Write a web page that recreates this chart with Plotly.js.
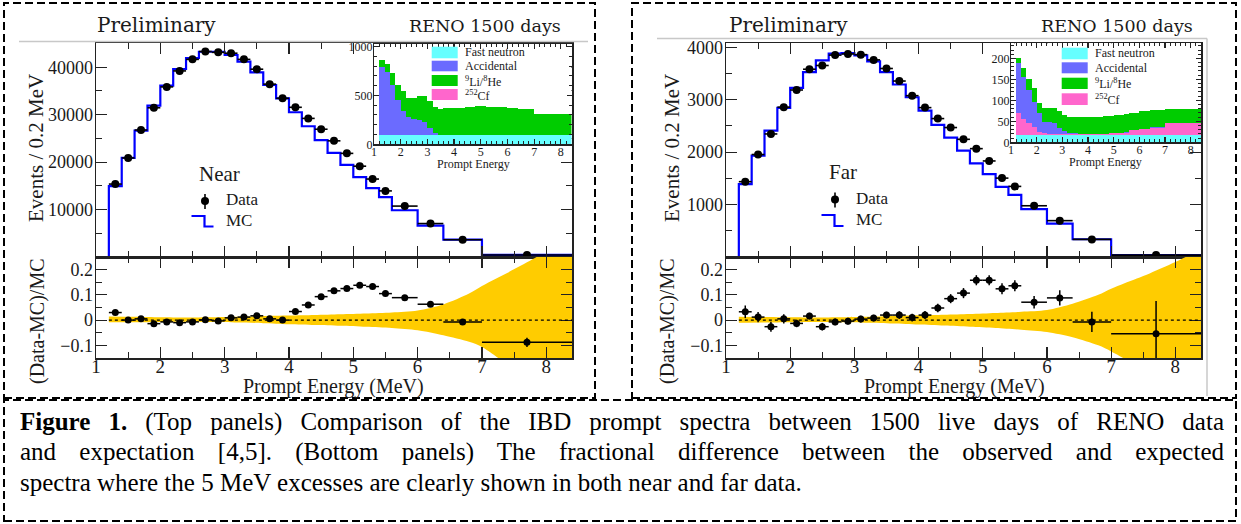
<!DOCTYPE html>
<html><head><meta charset="utf-8">
<script src="https://cdn.plot.ly/plotly-3.0.1.min.js"></script>
<style>
html,body{margin:0;padding:0;background:#fff;}
#chart{width:1241px;height:524px;position:absolute;left:0;top:0;}
.cap{position:absolute;left:20px;width:1204px;font-family:"Liberation Serif","Times New Roman",serif;font-size:25px;line-height:30px;color:#000;white-space:nowrap;}
.just{text-align:justify;text-align-last:justify;}
</style></head><body>
<div id="chart"></div>
<div class="cap just" style="top:407px"><b>Figure 1.</b> (Top panels) Comparison of the IBD prompt spectra between 1500 live days of RENO data</div>
<div class="cap just" style="top:437px">and expectation [4,5]. (Bottom panels) The fractional difference between the observed and expected</div>
<div class="cap" style="top:468px">spectra where the 5 MeV excesses are clearly shown in both near and far data.</div>
<script>
// ---------------- data ----------------
const histLow = 1.0;
const binEdges = [1.2,1.4,1.6,1.8,2.0,2.2,2.4,2.6,2.8,3.0,3.2,3.4,3.6,3.8,4.0,4.2,4.4,4.6,4.8,5.0,5.2,5.4,5.6,6.0,6.4,7.0,8.4];

const nearData = [15370,20880,26760,31450,35850,39220,41650,43300,43130,42950,41650,39580,36430,33450,31550,29210,26930,24480,21840,19140,16430,13930,10730,7050,3650,420];
const nearMC   = [14920,20880,26630,31900,36100,39620,41940,43260,43260,42570,41160,38920,36250,33450,30510,27560,24640,21940,19410,16820,14500,12610,9850,6630,3680,460];
const farData  = [1436,1954,2346,2857,3184,3580,3651,3849,3871,3858,3758,3594,3355,3076,2848,2639,2468,2244,2066,1831,1504,1346,977,693,336,36];
const farMC    = [1390,1931,2409,2843,3226,3524,3748,3876,3887,3843,3728,3524,3289,3046,2792,2518,2275,2027,1784,1581,1338,1185,912,637,338,38];

const nearRatio    = [0.030,0.000,0.005,-0.014,-0.007,-0.010,-0.007,0.001,-0.003,0.009,0.012,0.017,0.005,0.000,0.034,0.060,0.093,0.116,0.125,0.138,0.133,0.105,0.089,0.063,-0.007,-0.088];
const nearRatioErr = [0.005,0.004,0.004,0.004,0.004,0.004,0.004,0.004,0.004,0.004,0.004,0.004,0.004,0.004,0.004,0.004,0.005,0.005,0.005,0.005,0.006,0.006,0.006,0.008,0.008,0.018];
const farRatio     = [0.033,0.012,-0.026,0.005,-0.013,0.016,-0.026,-0.007,-0.004,0.004,0.008,0.020,0.020,0.010,0.020,0.048,0.085,0.107,0.158,0.158,0.124,0.136,0.071,0.088,-0.007,-0.054];
const farRatioErr  = [0.025,0.020,0.020,0.018,0.015,0.013,0.015,0.013,0.013,0.013,0.013,0.013,0.015,0.015,0.016,0.017,0.018,0.020,0.020,0.020,0.022,0.022,0.025,0.030,0.040,0.130];

const bandE      = [1.2,1.6,2.0,2.4,2.8,3.2,3.6,4.0,4.4,4.8,5.2,5.6,6.0,6.4,6.8,7.0,7.2,7.4,7.6,7.8,8.0,8.2,8.4];
const nearBandUp = [0.014,0.013,0.011,0.010,0.011,0.013,0.016,0.018,0.020,0.023,0.026,0.030,0.038,0.062,0.105,0.135,0.162,0.188,0.215,0.243,0.272,0.300,0.330];
const nearBandLo = [-0.008,-0.008,-0.007,-0.006,-0.007,-0.009,-0.012,-0.016,-0.019,-0.022,-0.026,-0.031,-0.040,-0.060,-0.086,-0.106,-0.140,-0.18,-0.22,-0.26,-0.30,-0.34,-0.38];
const farBandUp  = [0.013,0.012,0.011,0.010,0.011,0.013,0.016,0.019,0.021,0.024,0.028,0.033,0.040,0.065,0.100,0.124,0.145,0.165,0.185,0.207,0.230,0.255,0.280];
const farBandLo  = [-0.010,-0.009,-0.008,-0.007,-0.008,-0.010,-0.013,-0.017,-0.021,-0.026,-0.031,-0.038,-0.047,-0.068,-0.100,-0.124,-0.152,-0.19,-0.23,-0.27,-0.31,-0.35,-0.39];

// tick labels of the spectra panels
const nearTicks = [10000,20000,30000,40000];
const farTicks  = [1000,2000,3000,4000];

// backgrounds (events / 0.2 MeV)
const bkgNames  = ['Fast neutron','Accidental','<sup>9</sup>Li/<sup>8</sup>He','<sup>252</sup>Cf'];
const nearFN  = [92,92,92,92,92,92,92,92,92,92,92,92,92,92,92,92,92,92,92,92,92,92,92,92,92,92];
const nearCf  = [4,3,3,3,2,2,2,2,2,2,2,2,2,2,2,2,2,2,2,2,2,3,3,4,5,6];
const nearAcc = [692,645,515,360,242,183,163,156,129,70,19,4,2,1,1,1,1,1,1,1,1,1,1,1,1,1];
const nearLi  = [72,82,120,155,205,196,216,247,274,274,267,267,274,274,281,281,288,288,294,294,288,288,281,274,267,209];
const farFN   = [18,18,18,18,18,18,18,18,18,18,18,18,18,18,18,18,18,18,18,18,18,18,18,18,18,18];
const farCf   = [53,37,27,19,7,3,2,2,2,2,2,2,2,2,2,2,2,2,3,3,4,5,11,14,17,27];
const farAcc  = [119,101,80,60,44,28,29,25,15,7,2,1,0.5,0.5,0.5,0.5,0.5,0.5,0.5,0.5,0.5,0.5,0.5,0.5,0.5,0.5];
const farLi   = [12,22,25,33,25,33,32,36,40,38,38,39,39.5,39.5,40.5,40.5,40.5,41.5,40.5,42.5,41.5,43.5,41.5,41.5,41.5,33.5];

// ---------------- helpers ----------------
const W = 1241, H = 524;
const X = p => p / W, Y = p => 1 - p / H;
const centers = binEdges.slice(0, -1).map((e, i) => (e + binEdges[i + 1]) / 2);
const halfW   = binEdges.slice(0, -1).map((e, i) => (binEdges[i + 1] - e) / 2);
const widths  = halfW.map(h => 2 * h);
const stepX = [histLow].concat(binEdges);
const stepY = v => [0].concat(v, [v[v.length - 1]]);

const SERIF = 'Liberation Serif, Times New Roman, serif';
const TXT = '#1a1a1a';
const LC = '#222';

function ax(o) {
  return Object.assign({
    showline: true, linecolor: LC, linewidth: 1.5, mirror: 'ticks',
    ticks: 'inside', ticklen: 11, tickwidth: 1.2, tickcolor: LC,
    showgrid: false, zeroline: false, fixedrange: true,
    tickfont: {family: SERIF, size: 18, color: TXT}
  }, o);
}
const minor = (d, len) => ({ticks: 'inside', ticklen: len || 6, dtick: d, tickcolor: LC, tickwidth: 1});

// ---------------- traces ----------------
const traces = [];
function mainTraces(xa, ya, mc, data) {
  traces.push({type: 'scatter', mode: 'lines', x: stepX, y: stepY(mc), xaxis: xa, yaxis: ya,
    line: {color: '#0000ff', width: 2.2, shape: 'hv'}, hoverinfo: 'skip'});
  traces.push({type: 'scatter', mode: 'markers', x: centers, y: data, xaxis: xa, yaxis: ya,
    marker: {color: '#000', size: 8},
    error_x: {type: 'data', array: halfW, color: '#000', thickness: 1.6, width: 0}});
}
function ratioTraces(xa, ya, lo, up, r, re) {
  traces.push({type: 'scatter', mode: 'lines', x: bandE, y: lo, xaxis: xa, yaxis: ya,
    line: {width: 0, color: '#ffcc00', shape: 'spline', smoothing: 0.8}, hoverinfo: 'skip'});
  traces.push({type: 'scatter', mode: 'lines', x: bandE, y: up, xaxis: xa, yaxis: ya,
    line: {width: 0, color: '#ffcc00', shape: 'spline', smoothing: 0.8}, fill: 'tonexty', fillcolor: '#ffcc00', hoverinfo: 'skip'});
  traces.push({type: 'scatter', mode: 'markers', x: centers, y: r, xaxis: xa, yaxis: ya,
    marker: {color: '#000', size: 7},
    error_x: {type: 'data', array: halfW, color: '#000', thickness: 1.5, width: 0},
    error_y: {type: 'data', array: re, color: '#000', thickness: 1.5, width: 0}});
}
const bkgColors = ['#66ffff', '#6b6bff', '#00cc00', '#ff66cc'];
function insetTraces(xa, ya, fn, cf, acc, li) {
  const order = [[fn, 0], [cf, 3], [acc, 1], [li, 2]];
  order.forEach(([v, k]) => traces.push({type: 'bar', x: centers, y: v, width: widths,
    xaxis: xa, yaxis: ya, marker: {color: bkgColors[k], line: {width: 0}}, name: bkgNames[k], hoverinfo: 'skip'}));
}
mainTraces('x', 'y', nearMC, nearData);
ratioTraces('x2', 'y2', nearBandLo, nearBandUp, nearRatio, nearRatioErr);
insetTraces('x3', 'y3', nearFN, nearCf, nearAcc, nearLi);
mainTraces('x4', 'y4', farMC, farData);
ratioTraces('x5', 'y5', farBandLo, farBandUp, farRatio, farRatioErr);
insetTraces('x6', 'y6', farFN, farCf, farAcc, farLi);

// ---------------- layout ----------------
const L = [96, 572], R = [726, 1201];
const topY = [Y(257), Y(43)], botY = [Y(358), Y(257)];
const xr = [1, 8.4];
const bigX = {family: SERIF, size: 19, color: TXT};
const smallF = {family: SERIF, size: 12, color: TXT};
const layout = {
  width: W, height: H, margin: {l: 0, r: 0, t: 0, b: 0},
  paper_bgcolor: '#fff', plot_bgcolor: '#fff', showlegend: false,
  barmode: 'stack', bargap: 0,
  font: {family: SERIF, color: TXT},
  xaxis:  ax({domain: [X(L[0]), X(L[1])], range: xr, anchor: 'y', showticklabels: false, dtick: 1, minor: minor(0.5)}),
  yaxis:  ax({domain: topY, range: [0, 45100], anchor: 'x', tickmode: 'array', tickvals: nearTicks, tickformat: 'd', minor: minor(5000), ticklabelstandoff: -2}),
  xaxis2: ax({domain: [X(L[0]), X(L[1])], range: xr, anchor: 'y2', dtick: 1, minor: minor(0.5), tickfont: bigX, ticklabelstandoff: -9}),
  yaxis2: ax({domain: botY, range: [-0.15, 0.25], anchor: 'x2', dtick: 0.1, tick0: 0, minor: minor(0.05), ticklabelstandoff: -2}),
  xaxis3: ax({domain: [X(374), X(571.5)], range: xr, anchor: 'y3', dtick: 1, ticklen: 5, minor: minor(0.2, 3), tickfont: smallF, linewidth: 1.2, ticklabelstandoff: -4}),
  yaxis3: ax({domain: [Y(144.3), Y(44)], range: [0, 1025], anchor: 'x3', dtick: 500, ticklen: 5, minor: minor(100, 3), tickfont: smallF, linewidth: 1.2, ticklabelstandoff: -2}),
  xaxis4: ax({domain: [X(R[0]), X(R[1])], range: xr, anchor: 'y4', showticklabels: false, dtick: 1, minor: minor(0.5)}),
  yaxis4: ax({domain: topY, range: [0, 4080], anchor: 'x4', tickmode: 'array', tickvals: farTicks, tickformat: 'd', minor: minor(500), ticklabelstandoff: -2}),
  xaxis5: ax({domain: [X(R[0]), X(R[1])], range: xr, anchor: 'y5', dtick: 1, minor: minor(0.5), tickfont: bigX, ticklabelstandoff: -9}),
  yaxis5: ax({domain: botY, range: [-0.15, 0.25], anchor: 'x5', dtick: 0.1, tick0: 0, minor: minor(0.05), ticklabelstandoff: -2}),
  xaxis6: ax({domain: [X(1011), X(1201)], range: xr, anchor: 'y6', dtick: 1, ticklen: 5, minor: minor(0.2, 3), tickfont: smallF, linewidth: 1.2, ticklabelstandoff: -4}),
  yaxis6: ax({domain: [Y(142.3), Y(43.3)], range: [0, 236], anchor: 'x6', dtick: 50, ticklen: 5, minor: minor(10, 3), tickfont: smallF, linewidth: 1.2, ticklabelstandoff: -2}),
  shapes: [], annotations: []
};

const S = layout.shapes, A = layout.annotations;
// dashed frames
const dashLine = {color: '#000', width: 2, dash: '8px,4px'};
S.push({type: 'rect', xref: 'paper', yref: 'paper', x0: X(4), x1: X(595), y0: Y(398), y1: Y(3), line: dashLine});
S.push({type: 'rect', xref: 'paper', yref: 'paper', x0: X(632), x1: X(1236), y0: Y(398), y1: Y(3), line: dashLine});
S.push({type: 'rect', xref: 'paper', yref: 'paper', x0: X(4), x1: X(1236), y0: Y(521), y1: Y(400), line: dashLine});
// light grey image edges
const grey = {color: '#c8c8c8', width: 1.5};
S.push({type: 'line', xref: 'paper', yref: 'paper', x0: X(19), x1: X(588), y0: Y(41.5), y1: Y(41.5), line: grey});
S.push({type: 'line', xref: 'paper', yref: 'paper', x0: X(657), x1: X(1207), y0: Y(38.5), y1: Y(38.5), line: grey});
S.push({type: 'line', xref: 'paper', yref: 'paper', x0: X(1207), x1: X(1207), y0: Y(38.5), y1: Y(396), line: grey});
// zero reference lines
S.push({type: 'line', xref: 'x2', yref: 'y2', x0: 1.2, x1: 8.4, y0: 0, y1: 0, line: {color: '#000', width: 1.3, dash: '3px,3px'}});
S.push({type: 'line', xref: 'x5', yref: 'y5', x0: 1.2, x1: 8.4, y0: 0, y1: 0, line: {color: '#000', width: 1.3, dash: '3px,3px'}});

function txt(text, x, y, size, o) {
  A.push(Object.assign({text: text, x: X(x), y: Y(y), xref: 'paper', yref: 'paper', showarrow: false,
    xanchor: 'left', yanchor: 'middle', font: {family: SERIF, size: size, color: TXT}}, o || {}));
}
// headers
const HDR = 'DejaVu Serif, serif';
txt('Preliminary', 95, 25, 20, {font: {family: HDR, size: 20, color: TXT}});
txt('RENO 1500 days', 563, 26, 17.5, {xanchor: 'right', font: {family: HDR, size: 17.5, color: TXT}});
txt('Preliminary', 727, 25, 20, {font: {family: HDR, size: 20, color: TXT}});
txt('RENO 1500 days', 1195, 26, 17.5, {xanchor: 'right', font: {family: HDR, size: 17.5, color: TXT}});
// axis titles
txt('Events / 0.2 MeV', 36, 148, 21, {xanchor: 'center', textangle: -90});
txt('Events / 0.2 MeV', 672, 148, 21, {xanchor: 'center', textangle: -90});
txt('(Data-MC)/MC', 37, 321, 20, {xanchor: 'center', textangle: -90});
txt('(Data-MC)/MC', 667, 321, 20, {xanchor: 'center', textangle: -90});
txt('Prompt Energy (MeV)', 333, 386, 20, {xanchor: 'center'});
txt('Prompt Energy (MeV)', 954, 386, 20, {xanchor: 'center'});
txt('Prompt Energy', 473, 164, 12, {xanchor: 'center'});
txt('Prompt Energy', 1105, 162, 12, {xanchor: 'center'});

// main legends
function mainLegend(label, lx, ly, mx, my, step) {
  txt(label, lx, ly, 21);
  txt('Data', lx + 27, my - 1, 17);
  txt('MC', lx + 27, step[3] - 6, 17);
  S.push({type: 'line', xref: 'paper', yref: 'paper', x0: X(mx), x1: X(mx), y0: Y(my - 7), y1: Y(my + 8), line: {color: '#000', width: 1.6}});
  S.push({type: 'circle', xref: 'paper', yref: 'paper', x0: X(mx - 4), x1: X(mx + 4), y0: Y(my + 4), y1: Y(my - 4), fillcolor: '#000', line: {width: 0}});
  const [x0, y0, x1, y1, x2] = step;
  S.push({type: 'path', xref: 'paper', yref: 'paper',
    path: `M${X(x0)},${Y(y0)} L${X(x1)},${Y(y0)} L${X(x1)},${Y(y1)} L${X(x2)},${Y(y1)}`,
    line: {color: '#0000ff', width: 2.2}});
}
mainLegend('Near', 197, 174, 205, 201, [191.5, 216, 204.5, 226.5, 213.5]);
mainLegend('Far', 827, 172, 835, 199.5, [821.5, 215, 834.5, 226, 843.5]);

// inset legends
function insetLegend(bx0, bx1, boxes, tx) {
  boxes.forEach((b, i) => {
    S.push({type: 'rect', xref: 'paper', yref: 'paper', x0: X(bx0), x1: X(bx1), y0: Y(b[1]), y1: Y(b[0]),
      fillcolor: bkgColors[i], line: {width: 0}});
    txt(bkgNames[i], tx, (b[0] + b[1]) / 2 + (i >= 2 ? 0.5 : 0), 12);
  });
}
insetLegend(431.7, 457.7, [[46.7, 58.3], [60.7, 71.3], [75, 86], [89, 100]], 463);
insetLegend(1061.7, 1087.7, [[47.7, 59.3], [62.3, 73.3], [77.7, 89], [93.3, 105]], 1093);

Plotly.newPlot('chart', traces, layout, {staticPlot: true, displayModeBar: false});
</script>
</body></html>
